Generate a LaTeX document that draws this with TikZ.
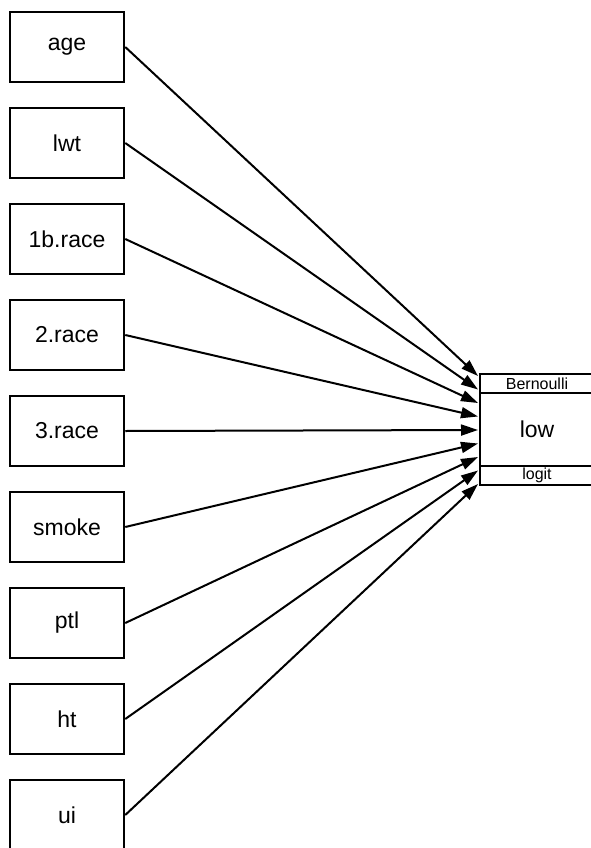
\documentclass[tikz,border=0pt]{standalone}
\usepackage{fontspec}
\setmainfont{Liberation Sans}
\usetikzlibrary{arrows.meta}

\begin{document}
\begin{tikzpicture}[x=1pt,y=-1pt,
  var/.style={draw,line width=2.5pt,minimum width=114pt,minimum height=70pt,inner sep=0pt,font=\fontsize{23}{27}\selectfont},
  dep/.style={draw,line width=2.5pt,minimum width=114pt,inner sep=0pt},
  link/.style={draw,line width=2pt,-{Triangle[length=17pt,width=11pt]}}]
\useasboundingbox (0,0) rectangle (591,848);
\node[var](age) at (67,47){age};
\node[var](lwt) at (67,143){lwt};
\node[var](race1) at (67,239){1b.race};
\node[var](race2) at (67,335){2.race};
\node[var](race3) at (67,431){3.race};
\node[var](smoke) at (67,527){smoke};
\node[var](ptl) at (67,623){ptl};
\node[var](ht) at (67,719){ht};
\node[var](ui) at (67,815){ui};
\node[dep,minimum height=19pt,font=\fontsize{16}{18}\selectfont](bern) at (537,383.5){Bernoulli};
\node[dep,minimum height=73pt,font=\fontsize{23}{27}\selectfont](low) at (537,429.5){low};
\node[dep,minimum height=19pt,font=\fontsize{16}{18}\selectfont](logit) at (537,475.5){logit};
\coordinate(t1) at (478,376);
\coordinate(t2) at (478,389.5);
\coordinate(t3) at (478,403);
\coordinate(t4) at (478,416.5);
\coordinate(t5) at (478,430);
\coordinate(t6) at (478,443.5);
\coordinate(t7) at (478,457);
\coordinate(t8) at (478,470.5);
\coordinate(t9) at (478,484);
\path[link](age.east)--(t1);
\path[link](lwt.east)--(t2);
\path[link](race1.east)--(t3);
\path[link](race2.east)--(t4);
\path[link](race3.east)--(t5);
\path[link](smoke.east)--(t6);
\path[link](ptl.east)--(t7);
\path[link](ht.east)--(t8);
\path[link](ui.east)--(t9);
\end{tikzpicture}
\end{document}
